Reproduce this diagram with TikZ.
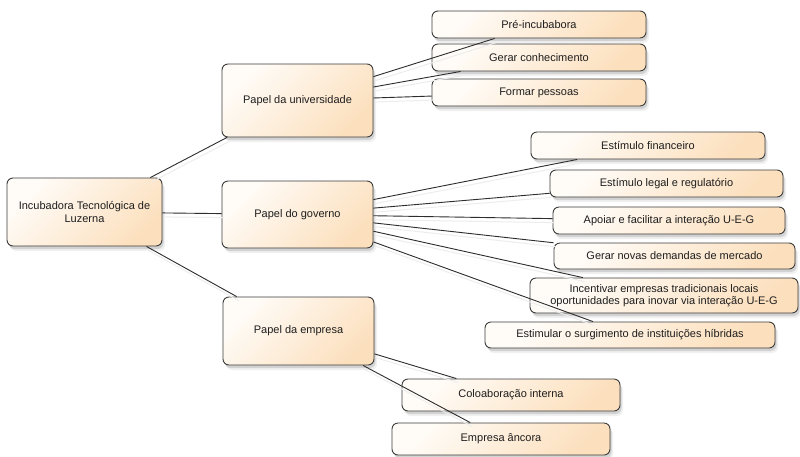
\documentclass[tikz,border=0pt]{standalone}
\usepackage{fontspec}
\setmainfont{Liberation Sans}
\usetikzlibrary{shadows}
\definecolor{peach}{RGB}{252,224,190}
\definecolor{offwhite}{RGB}{255,252,248}
\definecolor{boxline}{RGB}{60,60,60}
\definecolor{conn}{RGB}{45,45,45}
\definecolor{txt}{RGB}{30,30,30}
\tikzset{
  box/.style={rectangle, rounded corners=6pt, draw=boxline, line width=0.9pt,
    top color=offwhite, bottom color=peach, shading angle=45,
    inner sep=0pt, align=center, text=txt,
    font=\fontsize{11}{13}\selectfont,
    drop shadow={shadow xshift=1.5pt, shadow yshift=-3pt, opacity=.12, fill=black},
    drop shadow={shadow xshift=3pt, shadow yshift=-5pt, opacity=.06, fill=black}},
  link/.style={draw=conn, line width=0.9pt,
    preaction={draw=black!7, line width=1pt, transform canvas={xshift=2pt,yshift=-4pt}}}
}
\begin{document}
\begin{tikzpicture}[x=1pt,y=-1pt]
\useasboundingbox[fill=white] (0,0) rectangle (800,456);
% level 0
\node[box, minimum width=155pt, minimum height=68pt] (inc) at (84.5,212) {Incubadora Tecnológica de\\Luzerna};
% level 1
\node[box, minimum width=151pt, minimum height=73pt] (univ) at (297.5,100.5) {Papel da universidade};
\node[box, minimum width=151pt, minimum height=67pt] (gov) at (297.5,214.5) {Papel do governo};
\node[box, minimum width=151pt, minimum height=68pt] (emp) at (298.5,331) {Papel da empresa};
% universidade
\node[box, minimum width=214pt, minimum height=27pt] (pre) at (539,24.5) {Pré-incubabora};
\node[box, minimum width=214pt, minimum height=27pt] (ger) at (539,57.5) {Gerar conhecimento};
\node[box, minimum width=214pt, minimum height=27pt] (for) at (539,92.5) {Formar pessoas};
% governo
\node[box, minimum width=234pt, minimum height=27pt] (fin) at (648,145.5) {Estímulo financeiro};
\node[box, minimum width=233pt, minimum height=27pt] (leg) at (666.5,183.5) {Estímulo legal e regulatório};
\node[box, minimum width=232pt, minimum height=27pt] (apo) at (669,220.5) {Apoiar e facilitar a interação U-E-G};
\node[box, minimum width=241pt, minimum height=26pt] (dem) at (674.5,256) {Gerar novas demandas de mercado};
\node[box, minimum width=268pt, minimum height=35pt, font=\fontsize{11}{12.5}\selectfont] (itr) at (664,295.5) {Incentivar empresas tradicionais locais\\oportunidades para inovar via interação U-E-G};
\node[box, minimum width=290pt, minimum height=26pt] (est) at (630,335) {Estimular o surgimento de instituições híbridas};
% empresa
\node[box, minimum width=218pt, minimum height=32pt] (col) at (511,395) {Coloaboração interna};
\node[box, minimum width=218pt, minimum height=32pt] (anc) at (501,439) {Empresa âncora};
% connectors
\draw[link] (inc) -- (univ);
\draw[link] (inc) -- (gov);
\draw[link] (inc) -- (emp);
\draw[link] (univ) -- (pre);
\draw[link] (univ) -- (ger);
\draw[link] (univ) -- (for);
\draw[link] (gov) -- (fin);
\draw[link] (gov) -- (leg);
\draw[link] (gov) -- (apo);
\draw[link] (gov) -- (dem);
\draw[link] (gov) -- (itr);
\draw[link] (gov) -- (est);
\draw[link] (emp) -- (col);
\draw[link] (emp) -- (anc);
\end{tikzpicture}
\end{document}
